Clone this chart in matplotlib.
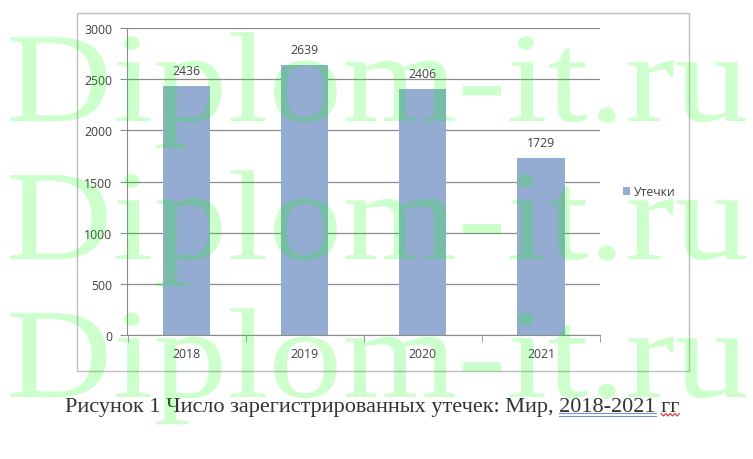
import matplotlib
matplotlib.use("Agg")
from matplotlib import pyplot as plt
from matplotlib.patches import Rectangle, PathPatch
from matplotlib.lines import Line2D
from matplotlib.textpath import TextPath
from matplotlib.font_manager import FontProperties
from matplotlib.transforms import Affine2D, IdentityTransform
import numpy as np

# Chart data
years = ["2018", "2019", "2020", "2021"]
leaks = [2436, 2639, 2406, 1729]
y_ticks = [0, 500, 1000, 1500, 2000, 2500, 3000]
series_name = "Утечки"
caption = "Рисунок 1 Число зарегистрированных утечек: Мир, 2018-2021 гг"
watermark = "Diplom-it.ru"

bar_color = "#94acd1"
text_color = "#404040"
grid_color = "#8c8c8c"
label_font = "Open Sans"

W_PX, H_PX = 753, 460
fig = plt.figure(figsize=(W_PX / 100, H_PX / 100), dpi=100)
fig.patch.set_facecolor("white")

# Outer chart frame
fig.patches.append(Rectangle((77 / W_PX, 1 - 372 / H_PX), 612 / W_PX, 358 / H_PX,
                             transform=fig.transFigure, fill=False,
                             edgecolor="#bfbfbf", linewidth=1.0))

ax = fig.add_axes([127.5 / W_PX, 1 - 336 / H_PX, 472.5 / W_PX, 307 / H_PX])
x = np.arange(len(years))
bars = ax.bar(x, leaks, width=0.4, color=bar_color, label=series_name, zorder=2)

ax.set_xlim(-0.5, len(years) - 0.5)
ax.set_ylim(0, 3000)
ax.set_yticks(y_ticks)
ax.set_yticklabels([str(v) for v in y_ticks], fontsize=8.8, color=text_color,
                   family=label_font)
ax.set_xticks(x)
ax.set_xticklabels(years, fontsize=8.8, color=text_color, family=label_font)
ax.set_xticks(np.arange(-0.5, len(years)), minor=True)
ax.tick_params(axis="x", which="major", length=0, pad=9)
ax.tick_params(axis="x", which="minor", length=5, color=grid_color, direction="out")
ax.tick_params(axis="y", length=5, color=grid_color, pad=6)
ax.yaxis.grid(True, color=grid_color, linewidth=0.9, zorder=0)

for side in ["top", "right"]:
    ax.spines[side].set_visible(False)
ax.spines["left"].set_color(grid_color)
ax.spines["bottom"].set_color(grid_color)

for b, v in zip(bars, leaks):
    ax.annotate(str(v), (b.get_x() + b.get_width() / 2, v), xytext=(0, 6.5),
                textcoords="offset points", ha="center", va="bottom",
                fontsize=8.8, color=text_color, family=label_font)

fig.legend(handles=[bars], labels=[series_name], loc="center left",
           bbox_to_anchor=(612 / W_PX, 1 - 193 / H_PX), frameon=False,
           prop={"family": label_font, "size": 8.8},
           handlelength=0.6, handleheight=0.6, handletextpad=0.3,
           labelcolor=text_color)

# Caption, baseline placed
cap_y = 412
cap = fig.text(65 / W_PX, 1 - cap_y / H_PX, caption, fontsize=16,
               family="Liberation Serif", color="#333333", va="baseline", ha="left")

# Underlines under the end of the caption (spell-check marks)
fig.canvas.draw()
renderer = fig.canvas.get_renderer()
x0 = cap.get_window_extent(renderer).x0


def text_width(s):
    t = fig.text(0, 0, s, fontsize=16, family="Liberation Serif")
    w = t.get_window_extent(renderer).width
    t.remove()
    return w


head = "Рисунок 1 Число зарегистрированных утечек: Мир, "
w1 = text_width(head)
w2 = text_width(head + "2018-2021")
w3 = text_width(head + "2018-2021 ")
w4 = text_width(caption)
base = H_PX - cap_y
for dy in (-2, -4.5):
    fig.lines.append(Line2D([(x0 + w1) / W_PX, (x0 + w2) / W_PX],
                            [(base + dy) / H_PX] * 2,
                            transform=fig.transFigure, color="#7b8fd6", linewidth=0.8))
sx = np.linspace(x0 + w3, x0 + w4, 9)
sy = base - 2.5 + np.array([0, -2.5] * 4 + [0])
fig.lines.append(Line2D(sx / W_PX, sy / H_PX, transform=fig.transFigure,
                        color="#e03030", linewidth=0.8))

# Watermark, stretched to the reference width
wm_path = TextPath((0, 0), watermark, size=128,
                   prop=FontProperties(family="Liberation Serif"))
ext = wm_path.get_extents()
stretch = 736 / ext.width
for baseline in [122, 260, 398]:
    tr = Affine2D().translate(-ext.x0, 0).scale(stretch, 1.0).translate(10, H_PX - baseline)
    patch = PathPatch(tr.transform_path(wm_path), transform=IdentityTransform(),
                      facecolor=(0, 1, 0, 0.2), edgecolor="none", zorder=10)
    fig.add_artist(patch)

fig.savefig("out.png", dpi=100)
